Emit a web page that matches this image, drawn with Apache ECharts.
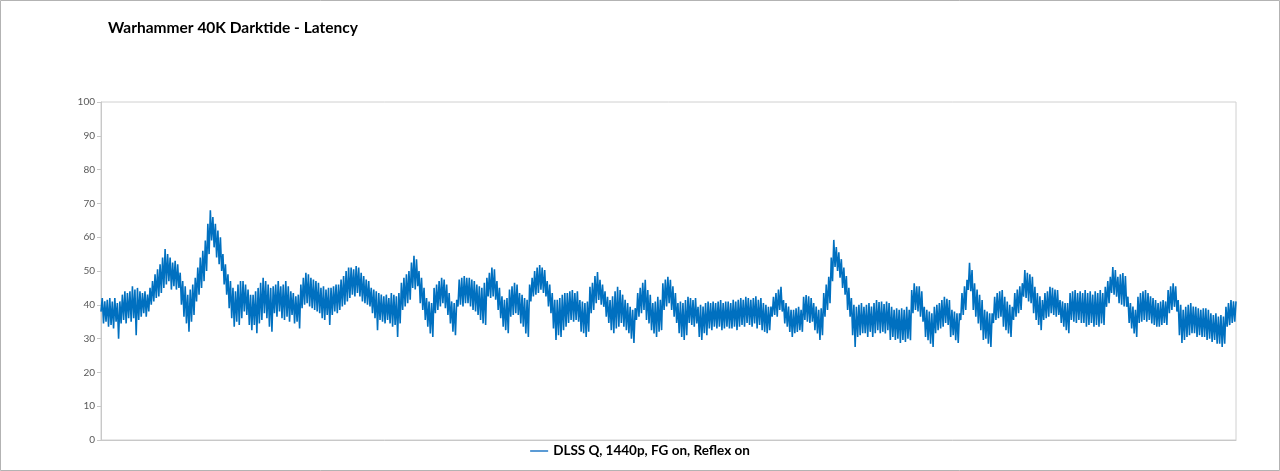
<!DOCTYPE html>
<html>
<head>
<meta charset="utf-8">
<script src="https://cdn.jsdelivr.net/npm/echarts@6/dist/echarts.min.js"></script>
<style>
  html, body { margin: 0; padding: 0; background: #fff; }
  #latencyChart { width: 1280px; height: 471px; }
</style>
</head>
<body>
<div id="latencyChart"></div>
<script>
const chartTitle = 'Warhammer 40K Darktide - Latency'
const seriesName = 'DLSS Q, 1440p, FG on, Reflex on'
const yTicks = [0, 10, 20, 30, 40, 50, 60, 70, 80, 90, 100]

const latency = [
  38, 42, 34.5, 41, 35, 41.5, 33.5, 42, 34, 41, 33, 42, 35, 40.5, 30, 41,
  34.5, 43, 35.5, 44, 34.5, 43.5, 36, 44, 35, 45.5, 36, 44.5, 31, 45, 35.5, 44,
  36.5, 43.5, 37.5, 44, 36.5, 43, 38, 45, 40, 47, 41, 49, 42, 50.5, 42.5, 52, 43.5,
  54, 45, 56.5, 46, 55, 47, 54, 44.5, 52.5, 45.5, 53, 44.5, 52, 45,
  49.5, 40, 47, 36.5, 45.5, 34.5, 43, 32, 44.5, 35, 46, 37,
  48, 41, 51, 43, 54, 45, 56, 47, 59, 50, 64, 55, 68, 59, 66, 57, 64, 54, 62, 52, 60,
  50, 55, 46, 52, 43, 49, 39, 47, 36, 45, 33.5, 44, 35, 46, 34, 47, 36,
  47, 38, 46, 37, 44.5, 34, 43, 32.5, 43, 34, 44, 31.6, 45, 34.5, 46.5, 35.5,
  48, 37.5, 47, 36, 46, 33.5, 45, 32, 45.5, 37.5, 46, 36.5, 47, 38, 45.5, 36,
  46, 35.5, 47, 36.5, 45.5, 35, 44, 37, 43.5, 34.5, 42.5, 35, 43, 33,
  46, 39, 48, 40, 49.5, 40.5, 49, 39.5, 48, 39, 47.5, 38.5, 47, 38, 46.5, 37.5,
  45, 36, 45.5, 35.5, 44.5, 37, 45, 34, 45, 37, 45.5, 38, 46, 37.5, 46, 38.5,
  47.5, 39.5, 48.5, 40, 50, 41, 51, 42, 51, 43, 50.5, 42.5, 51.5, 43.5, 51, 42.5,
  49.5, 41, 48.5, 40.5, 47.5, 40, 47, 39.5, 45, 37.5, 44.5, 36, 44, 32.5, 43.5, 35.5,
  43, 35, 42.5, 34.5, 43, 35.5, 42, 34.5, 43.5, 33.5, 43, 34, 42.5, 30.5, 43.5, 34.5,
  46.5, 38.5, 48, 39.5, 49, 40.5, 50, 41.5, 52.5, 45, 54.5, 44.5, 53.5, 45.5,
  50, 40.5, 48, 38.5, 45, 35.5, 42, 33.5, 41, 31.5, 40.5, 30.5,
  45, 37.5, 46, 38.5, 47, 39.5, 48, 40.5, 47.5, 39, 46, 37, 43.5, 34.5,
  41, 32, 40.5, 31, 41.5, 39.5, 47.5, 40, 48, 39.5, 48.5, 40.5, 48,
  40.5, 48, 39.5, 47.5, 38.5, 47, 38, 46, 37, 45.5, 35.5, 45, 34.5, 46.5, 34,
  48, 42.5, 49.5, 42, 51, 42.5, 50.5, 41.5, 47, 38.5, 45, 36, 42.5,
  33.5, 41.5, 32.5, 42, 31.6, 44.5, 36.5, 45.5, 37, 46.5, 37.5, 46, 37,
  43.5, 34.5, 43, 33.5, 42, 31.5, 41.5, 30.5, 46, 41, 48, 42.5, 50, 43, 51, 43.5,
  51.8, 44.5, 51, 43.5, 50.3, 42.5, 47, 39.5, 46, 37.5, 43.5, 33, 41.5, 29.6,
  41.5, 31, 42, 30.5, 43, 32.5, 43.5, 33.5, 43.5, 34.6, 44, 35.5, 44.4, 35, 43.5, 35.5, 44, 35,
  41.4, 32, 41, 31.6, 40.5, 30.5, 41, 32, 45.3, 37.5, 46.5, 38.5, 48.5, 40.5, 49.7, 41.4,
  47.4, 40, 46, 39.4, 44, 36.5, 42.4, 34.6, 41.4, 32.5, 42.5, 31.6, 44, 33, 45.3, 33.5,
  44.4, 34.6, 43, 33.5, 41.5, 32.5, 40.5, 31.6, 39.4, 30, 38.5, 28.7, 39,
  35.5, 43.5, 36.5, 45, 37.5, 46.5, 38.5, 47.4, 35.5, 44.4, 34.5, 43, 32.5,
  40.5, 31.5, 41, 30.5, 42.4, 32, 41.5, 32.5, 46.4, 38.5, 47.5, 39.5, 48.3, 40.5,
  47.4, 38.5, 45.5, 36.5, 43.5, 34.6, 40.5, 31.6, 41, 30.5, 40.5, 29.6, 41.4, 31,
  42.4, 34.6, 42, 34, 41.4, 33.5, 42, 34.5, 39.4, 30.5, 40, 29.6, 39.5, 31.6, 40.5, 31,
  41, 33, 40.5, 32.5, 41, 33.5, 40.5, 33, 41, 33.5, 41.4, 32.5, 40.5, 33, 41, 33.5, 41, 33,
  40.5, 33, 41.5, 33.5, 41, 32.5, 41.5, 33.5, 42, 34, 41.5, 33.5, 42.4, 34.6, 42, 34,
  41.5, 33.5, 42, 34.5, 42.5, 33, 41.5, 34, 42,
  32.5, 40.5, 32, 40, 31.6, 39.4, 32.5, 39.5, 36.5, 42.4, 37, 43.5, 36.5,
  44.5, 38.5, 45.3, 38, 41.4, 34.5, 40.5, 33.5, 39.5, 32, 38.5, 30.5,
  38.5, 31.6, 39, 32, 39.4, 32.5, 38.5, 32, 42.4, 35.5, 42.9, 35, 42.5, 34.6, 42, 35,
  40.5, 32.5, 39.5, 31.5, 38.5, 29.6, 39, 31, 43.5, 36.5, 46, 38.5, 48.3, 40.5,
  54, 47, 59.2, 51.2, 57.1, 50, 55.5, 48, 53.5, 45, 51, 43, 48.5, 38.5, 45, 36.5, 42, 31, 40, 27.5,
  39.4, 30.5, 40, 31, 40.5, 31.6, 39.4, 31.6, 40, 30.5, 40.5, 32, 39.5, 30.5, 40.5, 31.6,
  41.4, 32.5, 40.8, 31.6, 41, 32, 40.2, 31.5, 41, 32.5, 40.5,
  29.6, 39.4, 30.5, 38.5, 29.6, 39, 30, 38.5, 28.7, 39, 29.6, 38.5, 29, 39.4, 30, 38.5, 29.5,
  44.4, 37.5, 46.4, 38.5, 45.5, 38, 45.5, 36.5, 44,
  35, 39.4, 30.5, 38.5, 29.5, 38, 28.5, 37.5, 27.5, 39.4, 31.6, 40, 32.5, 40.5, 33, 41.4, 33.5,
  42.4, 34.6, 41.8, 34, 41.4, 30.5, 38.5, 31, 38, 29.5, 37.5, 28.7, 37.5,
  35.5, 43.5, 37, 45.5, 38.5, 47.4, 44.4, 52.4, 44, 50.3,
  38.5, 46.4, 36.5, 44.5, 34.5, 43, 32.5, 41.4, 29.6, 38.5, 30, 38, 28.5, 37.5, 27.5, 37.5,
  34.6, 42.4, 35.5, 43.5, 36, 44, 36.5, 44.4, 33.5, 42.4, 32.5, 41, 31.5, 40, 30.5, 39.4,
  35.5, 43.5, 36.5, 44.5, 37.5, 45.5, 38.5, 46.4, 42.4, 50.3, 42, 49.5, 41, 49, 40.5, 48.3,
  37.5, 45.3, 35.5, 43.5, 34, 42.5, 32.5, 41.4, 35.5, 43.5, 36, 44, 36.5,
  45.3, 37.5, 45, 37, 44.5, 36.5, 44.4, 37, 41.4, 34.6, 41, 33.5, 40.5, 32.5, 40.5, 31.6,
  43.5, 35.5, 44, 35, 44.4, 34.6, 43.5, 35.5, 44, 34.6,
  43.5, 34.6, 44.4, 33.5, 43.5, 34, 44, 34.6, 43, 33.5, 44, 34, 43.5, 33.5, 44.4, 34.5, 43.5, 34,
  45.3, 39.4, 47, 40.5, 48.3, 43.5, 51.2, 43, 50.3, 42.4,
  48.3, 40.5, 49, 40, 49.4, 39.5, 48.5, 39.4, 42.4, 34.6, 40.5, 33, 39.5, 31.5, 38.5, 30.5,
  42.4, 34.6, 43.5, 35, 44, 35.5, 44.4, 35, 43.5, 35.5, 42.5, 34.5, 42, 34, 41.4, 33.5,
  40.5, 33.5, 41, 34, 41.4, 34.6, 41, 34, 44.4, 37.5, 45.5, 38.5, 46.4, 39.4, 45.5, 38,
  41.4, 31, 40, 28.7, 38.5, 29.6, 39.4, 30.5, 40, 31, 40.5, 31.6, 39.5,
  31.6, 39.4, 30.5, 39, 31, 38.5, 30.5, 39, 30.5, 39, 29.6, 38.5, 30,
  37.5, 29, 37, 29.6, 37.5, 28.5, 36.5, 28.5, 37, 27.5, 36.5, 28.5,
  39.4, 33.5, 40.5, 34, 41.4, 34.6, 41, 35, 41
]
const samples = latency.map((v, i) => i + 1)

let option = {
  animation: false,
  backgroundColor: '#fff',
  title: {
    text: chartTitle,
    left: 108,
    top: 20,
    padding: 0,
    textStyle: {
      fontFamily: 'Lato',
      fontWeight: 'bold',
      fontSize: 15.5,
      color: '#000'
    }
  },
  legend: {
    bottom: 8,
    left: 'center',
    itemWidth: 18,
    itemHeight: 2,
    itemGap: 4,
    icon: 'rect',
    textStyle: {
      fontFamily: 'Lato',
      fontWeight: 'bold',
      fontSize: 13.5,
      color: '#000'
    },
    data: [{ name: seriesName, itemStyle: { color: '#5b9bd5' } }]
  },
  graphic: [
    {
      type: 'rect',
      shape: { x: 0.5, y: 0.5, width: 1279, height: 470 },
      style: { fill: 'none', stroke: '#b3b3b3', lineWidth: 1 },
      silent: true
    }
  ],
  grid: {
    left: 101,
    right: 44,
    top: 102,
    bottom: 31,
    show: true,
    borderColor: '#d0d0d0',
    borderWidth: 1
  },
  xAxis: {
    type: 'category',
    data: samples,
    boundaryGap: false,
    axisLine: { lineStyle: { color: '#c8c8c8' } },
    axisTick: { show: false },
    axisLabel: { show: false },
    splitLine: { show: false }
  },
  yAxis: {
    type: 'value',
    min: yTicks[0],
    max: yTicks[yTicks.length - 1],
    interval: 10,
    axisLine: { show: true, lineStyle: { color: '#c8c8c8' } },
    axisTick: { show: true, length: 4, lineStyle: { color: '#c8c8c8' } },
    axisLabel: {
      margin: 6,
      fontFamily: 'Lato',
      fontSize: 10,
      color: '#595959'
    },
    splitLine: { show: false }
  },
  series: [
    {
      name: seriesName,
      type: 'line',
      data: latency,
      symbol: 'none',
      sampling: false,
      lineStyle: { width: 1.6, color: '#0070c0' },
      itemStyle: { color: '#0070c0' }
    }
  ]
}

let myChart = echarts.init(document.getElementById('latencyChart'))
myChart.setOption(option)
window.addEventListener('resize', function () {
  myChart.resize()
})
</script>
</body>
</html>
